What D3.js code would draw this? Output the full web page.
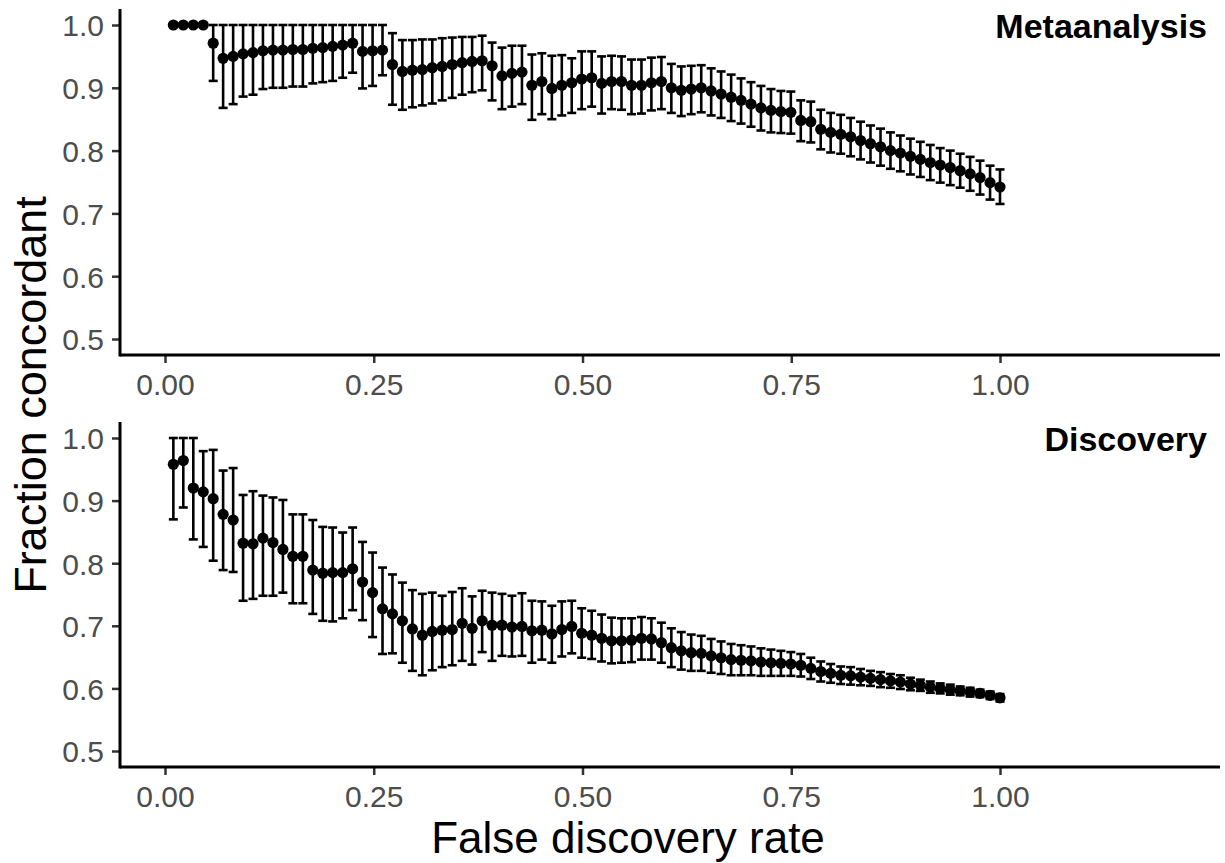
<!DOCTYPE html>
<html lang="en">
<head>
<meta charset="UTF-8">
<title>Fraction concordant vs FDR</title>
<script src="https://cdnjs.cloudflare.com/ajax/libs/d3/7.8.5/d3.min.js"></script>
<style>
  body { margin: 0; background: #fff; }
  svg { display: block; font-family: "Liberation Sans", Arial, sans-serif; }
  .tick text { fill: #4d4d4d; font-size: 30px; }
  .tick line { stroke: #333; stroke-width: 2.5; }
  .axis-line { stroke: #000; stroke-width: 3; }
  .panel-label { font-weight: bold; font-size: 34px; text-anchor: end; fill: #000; }
  .axis-title { font-size: 45px; fill: #000; text-anchor: middle; }
</style>
</head>
<body>
<div id="chart"></div>
<script>
// FDR thresholds (x grid)
const fdr = d3.range(84).map(i => +(0.01 + i * 0.99 / 83).toFixed(4));

// Metaanalysis panel
const metaEst = [
  1, 1, 1, 1, 0.971, 0.947, 0.950, 0.954, 0.956, 0.959,
  0.960, 0.960, 0.961, 0.961, 0.963, 0.964, 0.966, 0.968, 0.971, 0.958,
  0.959, 0.960, 0.937, 0.926, 0.928, 0.929, 0.932, 0.934, 0.937, 0.940,
  0.942, 0.943, 0.935, 0.919, 0.923, 0.925, 0.904, 0.910, 0.899, 0.904,
  0.908, 0.914, 0.916, 0.907, 0.910, 0.910, 0.904, 0.904, 0.908, 0.910,
  0.900, 0.896, 0.898, 0.900, 0.895, 0.890, 0.885, 0.880, 0.874, 0.868,
  0.864, 0.862, 0.861, 0.848, 0.846, 0.834, 0.829, 0.826, 0.822, 0.816,
  0.811, 0.806, 0.800, 0.796, 0.791, 0.786, 0.781, 0.777, 0.773, 0.768,
  0.763, 0.757, 0.749, 0.742
];
const metaLo = [
  1, 1, 1, 1, 0.911, 0.868, 0.874, 0.886, 0.889, 0.898,
  0.900, 0.900, 0.902, 0.902, 0.907, 0.909, 0.911, 0.916, 0.924, 0.899,
  0.903, 0.920, 0.873, 0.865, 0.869, 0.872, 0.875, 0.880, 0.884, 0.889,
  0.893, 0.896, 0.880, 0.866, 0.870, 0.874, 0.849, 0.858, 0.850, 0.856,
  0.860, 0.866, 0.870, 0.859, 0.866, 0.865, 0.858, 0.859, 0.864, 0.866,
  0.860, 0.855, 0.858, 0.861, 0.856, 0.852, 0.847, 0.843, 0.838, 0.832,
  0.829, 0.828, 0.827, 0.815, 0.813, 0.802, 0.797, 0.795, 0.791, 0.786,
  0.781, 0.776, 0.771, 0.767, 0.762, 0.758, 0.753, 0.749, 0.745, 0.741,
  0.736, 0.730, 0.722, 0.715
];
const metaHi = [
  1, 1, 1, 1, 1, 1, 1, 1, 1, 1,
  1, 1, 1, 1, 1, 1, 1, 1, 1, 1,
  1, 1, 0.987, 0.976, 0.976, 0.977, 0.977, 0.979, 0.980, 0.981,
  0.981, 0.983, 0.972, 0.964, 0.967, 0.967, 0.953, 0.955, 0.951, 0.952,
  0.947, 0.958, 0.958, 0.950, 0.951, 0.950, 0.945, 0.945, 0.948, 0.949,
  0.938, 0.934, 0.935, 0.936, 0.931, 0.926, 0.921, 0.915, 0.909, 0.903,
  0.898, 0.895, 0.894, 0.880, 0.878, 0.865, 0.860, 0.857, 0.852, 0.846,
  0.840, 0.835, 0.829, 0.824, 0.819, 0.814, 0.809, 0.804, 0.800, 0.795,
  0.790, 0.784, 0.776, 0.770
];

// Discovery panel
const discEst = [
  0.958, 0.964, 0.920, 0.914, 0.903, 0.878, 0.869, 0.832, 0.831, 0.840,
  0.833, 0.822, 0.811, 0.811, 0.789, 0.784, 0.785, 0.785, 0.791, 0.770,
  0.753, 0.727, 0.719, 0.708, 0.695, 0.685, 0.691, 0.693, 0.694, 0.704,
  0.696, 0.708, 0.701, 0.701, 0.698, 0.699, 0.692, 0.693, 0.687, 0.694,
  0.699, 0.688, 0.685, 0.680, 0.676, 0.676, 0.677, 0.680, 0.679, 0.673,
  0.665, 0.660, 0.657, 0.656, 0.652, 0.649, 0.646, 0.645, 0.644, 0.642,
  0.641, 0.640, 0.639, 0.637, 0.632, 0.627, 0.624, 0.621, 0.620, 0.618,
  0.616, 0.614, 0.612, 0.610, 0.607, 0.605, 0.602, 0.600, 0.598, 0.596,
  0.594, 0.592, 0.589, 0.585
];
const discLo = [
  0.870, 0.889, 0.838, 0.826, 0.804, 0.789, 0.786, 0.740, 0.743, 0.748,
  0.748, 0.753, 0.736, 0.736, 0.719, 0.708, 0.707, 0.712, 0.725, 0.709,
  0.682, 0.655, 0.656, 0.641, 0.628, 0.621, 0.629, 0.634, 0.637, 0.644,
  0.638, 0.658, 0.644, 0.652, 0.651, 0.652, 0.641, 0.646, 0.641, 0.651,
  0.656, 0.649, 0.647, 0.643, 0.640, 0.641, 0.642, 0.646, 0.646, 0.641,
  0.634, 0.630, 0.628, 0.628, 0.625, 0.623, 0.621, 0.621, 0.621, 0.620,
  0.620, 0.620, 0.620, 0.619, 0.615, 0.611, 0.609, 0.607, 0.606, 0.605,
  0.604, 0.602, 0.601, 0.599, 0.597, 0.596, 0.593, 0.592, 0.590, 0.589,
  0.587, 0.586, 0.583, 0.579
];
const discHi = [
  1, 1, 1, 0.979, 0.981, 0.948, 0.952, 0.909, 0.915, 0.908,
  0.905, 0.901, 0.878, 0.878, 0.869, 0.858, 0.857, 0.849, 0.857, 0.834,
  0.817, 0.793, 0.782, 0.769, 0.757, 0.751, 0.753, 0.748, 0.754, 0.760,
  0.747, 0.756, 0.753, 0.751, 0.748, 0.752, 0.740, 0.739, 0.732, 0.739,
  0.740, 0.728, 0.724, 0.718, 0.713, 0.712, 0.712, 0.714, 0.712, 0.705,
  0.696, 0.690, 0.686, 0.684, 0.679, 0.675, 0.671, 0.669, 0.667, 0.664,
  0.662, 0.660, 0.658, 0.655, 0.649, 0.643, 0.639, 0.635, 0.634, 0.631,
  0.628, 0.626, 0.623, 0.621, 0.617, 0.614, 0.611, 0.608, 0.606, 0.603,
  0.601, 0.598, 0.595, 0.591
];

const xTicks = [0, 0.25, 0.5, 0.75, 1];
const yTicks = [0.5, 0.6, 0.7, 0.8, 0.9, 1.0];

const W = 1225, H = 863;
const svg = d3.select("#chart").append("svg")
  .attr("width", W).attr("height", H);

const panelLeft = 120, panelRight = 1220;
const x = d3.scaleLinear().domain([0, 1]).range([165, 1000]);

const panels = [
  { label: "Metaanalysis", est: metaEst, lo: metaLo, hi: metaHi, top: 9, bottom: 355, y1: 25, y05: 339 },
  { label: "Discovery", est: discEst, lo: discLo, hi: discHi, top: 422, bottom: 767, y1: 438, y05: 751 }
];

panels.forEach(p => {
  const y = d3.scaleLinear().domain([0.5, 1]).range([p.y05, p.y1]);
  const g = svg.append("g");

  // error bars
  const rows = fdr.map((f, i) => ({ f, est: p.est[i], lo: p.lo[i], hi: p.hi[i] }));
  const bars = g.selectAll("g.bar").data(rows).enter().append("g").attr("class", "bar")
    .attr("stroke", "#000").attr("stroke-width", 2.6);
  bars.append("line")
    .attr("x1", d => x(d.f)).attr("x2", d => x(d.f))
    .attr("y1", d => y(d.lo)).attr("y2", d => y(d.hi));
  bars.append("line")
    .attr("x1", d => x(d.f) - 4.5).attr("x2", d => x(d.f) + 4.5)
    .attr("y1", d => y(d.lo)).attr("y2", d => y(d.lo));
  bars.append("line")
    .attr("x1", d => x(d.f) - 4.5).attr("x2", d => x(d.f) + 4.5)
    .attr("y1", d => y(d.hi)).attr("y2", d => y(d.hi));

  // points
  g.selectAll("circle").data(rows).enter().append("circle")
    .attr("cx", d => x(d.f)).attr("cy", d => y(d.est))
    .attr("r", 5.6).attr("fill", "#000");

  // axes
  const xAxis = g.append("g").attr("transform", `translate(0,${p.bottom})`)
    .call(d3.axisBottom(x).tickValues(xTicks).tickFormat(d3.format(".2f")).tickSize(8).tickPadding(11));
  xAxis.select(".domain").remove();
  const yAxis = g.append("g").attr("transform", `translate(${panelLeft},0)`)
    .call(d3.axisLeft(y).tickValues(yTicks).tickFormat(d3.format(".1f")).tickSize(8).tickPadding(8));
  yAxis.select(".domain").remove();
  yAxis.selectAll(".tick text").attr("dy", "0.36em");

  g.append("line").attr("class", "axis-line")
    .attr("x1", panelLeft).attr("x2", panelRight)
    .attr("y1", p.bottom).attr("y2", p.bottom);
  g.append("line").attr("class", "axis-line")
    .attr("x1", panelLeft).attr("x2", panelLeft)
    .attr("y1", p.top).attr("y2", p.bottom + 1.5);

  g.append("text").attr("class", "panel-label")
    .attr("x", 1207).attr("y", p.top + 29)
    .text(p.label);
});

svg.append("text").attr("class", "axis-title")
  .attr("x", 628).attr("y", 853)
  .style("font-size", "44px")
  .text("False discovery rate");
svg.append("text").attr("class", "axis-title")
  .attr("transform", "translate(46,395) rotate(-90)")
  .text("Fraction concordant");
</script>
</body>
</html>
